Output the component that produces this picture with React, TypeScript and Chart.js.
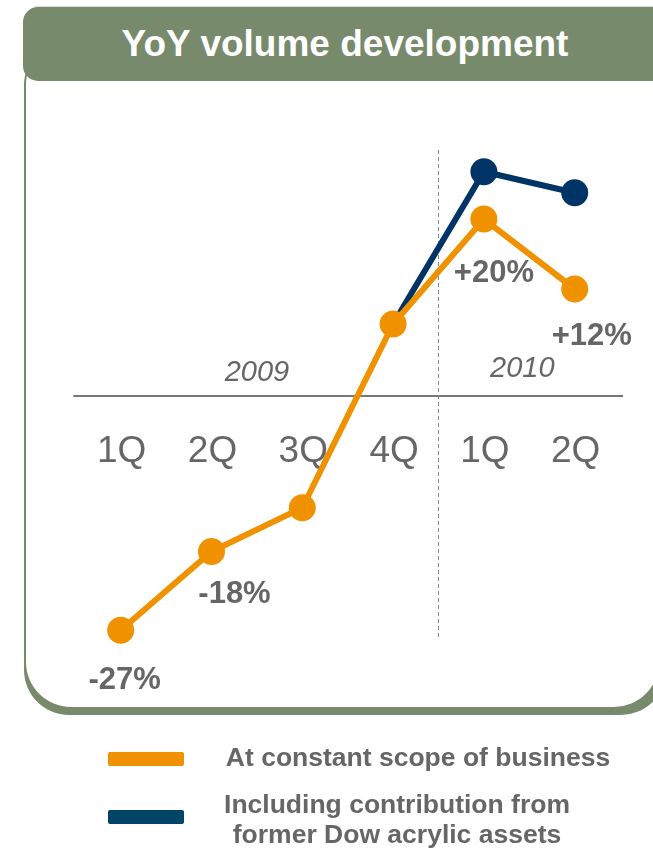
import React, { useEffect, useRef } from "react";
import { Chart, registerables } from "chart.js";

Chart.register(...registerables);

const categories = ["1Q", "2Q", "3Q", "4Q", "1Q", "2Q"];
const constantScope = [-27, -18, -13, 8, 20, 12];
const includingDow = [null, null, null, 8, 25.4, 23];
const valueLabels = ["-27%", "-18%", "", "", "+20%", "+12%"];
const years = ["2009", "2010"];
const legendLabels = ["At constant scope of business", "Including contribution from\nformer Dow acrylic assets"];
const title = "YoY volume development";

// layout-only constants (pixel offsets of the free-floating labels)
const labelOffsets = [
  [4, 59],
  [23, 51],
  [0, 0],
  [0, 0],
  [10, 63],
  [17, 56],
];
const yearSpans = [
  [0, 3, 381],
  [4, 5, 377],
];
const yearShift = [0, -7];

const ORANGE = "#F09100";
const NAVY = "#003366";
const GREEN = "#778A6C";
const GRAY = "#666666";
const FONT = '"Liberation Sans", Arial, Helvetica, sans-serif';

const overlayPlugin = {
  id: "overlay",
  beforeDatasetsDraw(chart: any) {
    const { ctx, chartArea, scales } = chart;
    const x = scales.x;
    const y = scales.y;
    ctx.save();
    // zero line
    const y0 = y.getPixelForValue(0) + 2;
    ctx.strokeStyle = "#777777";
    ctx.lineWidth = 2;
    ctx.beginPath();
    ctx.moveTo(chartArea.left - 2, y0);
    ctx.lineTo(chartArea.right + 3, y0);
    ctx.stroke();
    // year divider
    const xd = (x.getPixelForValue(3) + x.getPixelForValue(4)) / 2;
    ctx.strokeStyle = "#888888";
    ctx.lineWidth = 1;
    ctx.setLineDash([4, 3]);
    ctx.beginPath();
    ctx.moveTo(xd, 150);
    ctx.lineTo(xd, 640);
    ctx.stroke();
    ctx.setLineDash([]);
    // category labels
    ctx.fillStyle = GRAY;
    ctx.font = `37px ${FONT}`;
    ctx.textAlign = "center";
    ctx.textBaseline = "alphabetic";
    categories.forEach((c, i) => {
      ctx.fillText(c, x.getPixelForValue(i) + 1, y0 + 66);
    });
    // year labels
    ctx.font = `italic 29px ${FONT}`;
    years.forEach((yr, i) => {
      const [a, b, base] = yearSpans[i];
      const cx = (x.getPixelForValue(a) + x.getPixelForValue(b)) / 2 + yearShift[i];
      ctx.fillText(yr, cx, base);
    });
    ctx.restore();
  },
  afterDatasetsDraw(chart: any) {
    const { ctx, scales } = chart;
    const x = scales.x;
    const y = scales.y;
    ctx.save();
    ctx.fillStyle = GRAY;
    ctx.font = `bold 31px ${FONT}`;
    ctx.textAlign = "center";
    ctx.textBaseline = "alphabetic";
    valueLabels.forEach((t, i) => {
      if (!t) return;
      const px = x.getPixelForValue(i) + labelOffsets[i][0];
      const py = y.getPixelForValue(constantScope[i]) + labelOffsets[i][1];
      ctx.fillText(t, px, py);
    });
    ctx.restore();
  },
};

function LineChart() {
  const ref = useRef<HTMLCanvasElement>(null);
  useEffect(() => {
    if (!ref.current) return;
    const chart = new Chart(ref.current, {
      type: "line",
      data: {
        labels: categories,
        datasets: [
          {
            label: legendLabels[0],
            data: constantScope,
            borderColor: ORANGE,
            backgroundColor: ORANGE,
            borderWidth: 6,
            pointRadius: 13.5,
            pointBorderWidth: 0,
            pointBackgroundColor: ORANGE,
            order: 0,
          },
          {
            label: legendLabels[1],
            data: includingDow,
            borderColor: NAVY,
            backgroundColor: NAVY,
            borderWidth: 6,
            pointRadius: [0, 0, 0, 0, 13.5, 13.5],
            pointBorderWidth: 0,
            pointBackgroundColor: NAVY,
            order: 1,
          },
        ],
      },
      options: {
        responsive: false,
        animation: false,
        events: [],
        layout: { padding: { left: 75.3, right: 32.9, top: 131.5, bottom: 193.5 } },
        scales: {
          x: { type: "category", offset: true, display: false },
          y: { min: -30, max: 30, display: false },
        },
        plugins: { legend: { display: false }, tooltip: { enabled: false } },
      },
      plugins: [overlayPlugin],
    });
    return () => chart.destroy();
  }, []);
  return (
    <canvas
      ref={ref}
      width={653}
      height={850}
      style={{ position: "absolute", left: 0, top: 0, width: 653, height: 850 }}
    />
  );
}

export default function App() {
  const abs: React.CSSProperties = { position: "absolute" };
  return (
    <div
      style={{
        position: "absolute",
        left: 0,
        top: 0,
        width: 653,
        height: 850,
        overflow: "hidden",
        background: "#ffffff",
        fontFamily: FONT,
      }}
    >
      {/* box back (shadow) */}
      <div style={{ ...abs, left: 24, top: 40, width: 642, height: 675, borderRadius: 45, background: GREEN }} />
      {/* box front */}
      <div style={{ ...abs, left: 25.5, top: 40, width: 633, height: 667, borderRadius: 45, background: "#ffffff" }} />
      {/* top hairline */}
      <div style={{ ...abs, left: 35, top: 6, width: 640, height: 1, background: "#dddddd" }} />
      {/* header */}
      <div
        style={{
          ...abs,
          left: 23,
          top: 7,
          width: 644,
          height: 74,
          borderRadius: "15px 0 0 15px",
          background: GREEN,
          color: "#ffffff",
          fontWeight: "bold",
          fontSize: 37,
          lineHeight: "74px",
          textAlign: "center",
          whiteSpace: "nowrap",
        }}
      >
        {title}
      </div>
      <LineChart />
      {/* legend */}
      <div style={{ ...abs, left: 108, top: 752, width: 76, height: 14, borderRadius: 2, background: ORANGE }} />
      <div style={{ ...abs, left: 108, top: 810, width: 76, height: 14, borderRadius: 2, background: "#004466" }} />
      <div
        style={{
          ...abs,
          left: 218,
          top: 742,
          width: 400,
          textAlign: "center",
          color: GRAY,
          fontWeight: "bold",
          fontSize: 26.5,
          lineHeight: "30px",
          whiteSpace: "nowrap",
        }}
      >
        {legendLabels[0]}
      </div>
      <div
        style={{
          ...abs,
          left: 197,
          top: 789,
          width: 400,
          textAlign: "center",
          color: GRAY,
          fontWeight: "bold",
          fontSize: 26.5,
          lineHeight: "30px",
          whiteSpace: "pre",
        }}
      >
        {legendLabels[1]}
      </div>
    </div>
  );
}
